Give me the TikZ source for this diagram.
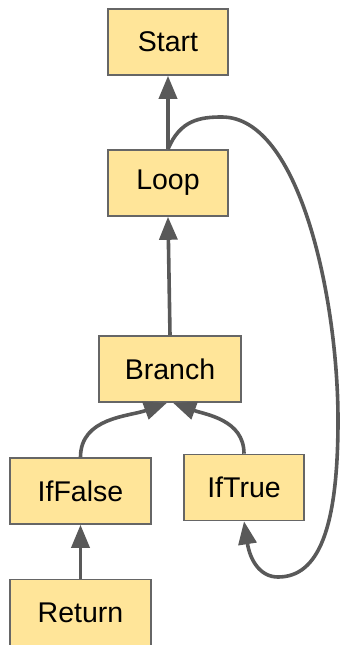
\documentclass[tikz,border=0pt]{standalone}
\usepackage{fontspec}
\setmainfont{Liberation Sans}
\usetikzlibrary{arrows.meta}
\definecolor{boxfill}{HTML}{FFE599}
\definecolor{boxline}{HTML}{666666}
\definecolor{edgecol}{HTML}{595959}
\tikzset{
  blk/.style={draw=boxline, fill=boxfill, line width=1.6pt, inner sep=0pt,
    minimum height=66pt, font=\fontsize{28.5}{32}\selectfont},
  edge/.style={draw=edgecol, line width=3.6pt,
    -{Triangle[length=23pt,width=18pt]}}
}
\begin{document}
\begin{tikzpicture}[x=1pt,y=-1pt]
\useasboundingbox (0,0) rectangle (342,645);
\node[blk, minimum width=120pt] (start)   at (168,42)  {Start};
\node[blk, minimum width=120pt] (loop)    at (168,183) {Loop};
\node[blk, minimum width=142pt] (branch)  at (170,369) {Branch};
\node[blk, minimum width=141pt] (iffalse) at (80.5,491) {IfFalse};
\node[blk, minimum width=120pt] (iftrue)  at (244,487.5) {IfTrue};
\node[blk, minimum width=141pt] (ret)     at (80.5,612.5) {Return};

\draw[edge] (loop.north) -- (start.south);
\draw[edge] (branch.north) -- (loop.south);
\draw[edge] (iffalse.north) to[out=90,in=-160] ([xshift=-3pt]branch.south);
\draw[edge] (iftrue.north) to[out=90,in=-20] ([xshift=3pt]branch.south);
\draw[edge] (ret.north) -- (iffalse.south);
% back edge from Loop round the right side into IfTrue
\draw[edge] (loop.north) .. controls (180,120) and (200,117) .. (222,117)
  .. controls (300,117) and (338,300) .. (338,420)
  .. controls (338,530) and (318,577) .. (278,577)
  .. controls (260,577) and (250,560) .. (iftrue.south);
\end{tikzpicture}
\end{document}
